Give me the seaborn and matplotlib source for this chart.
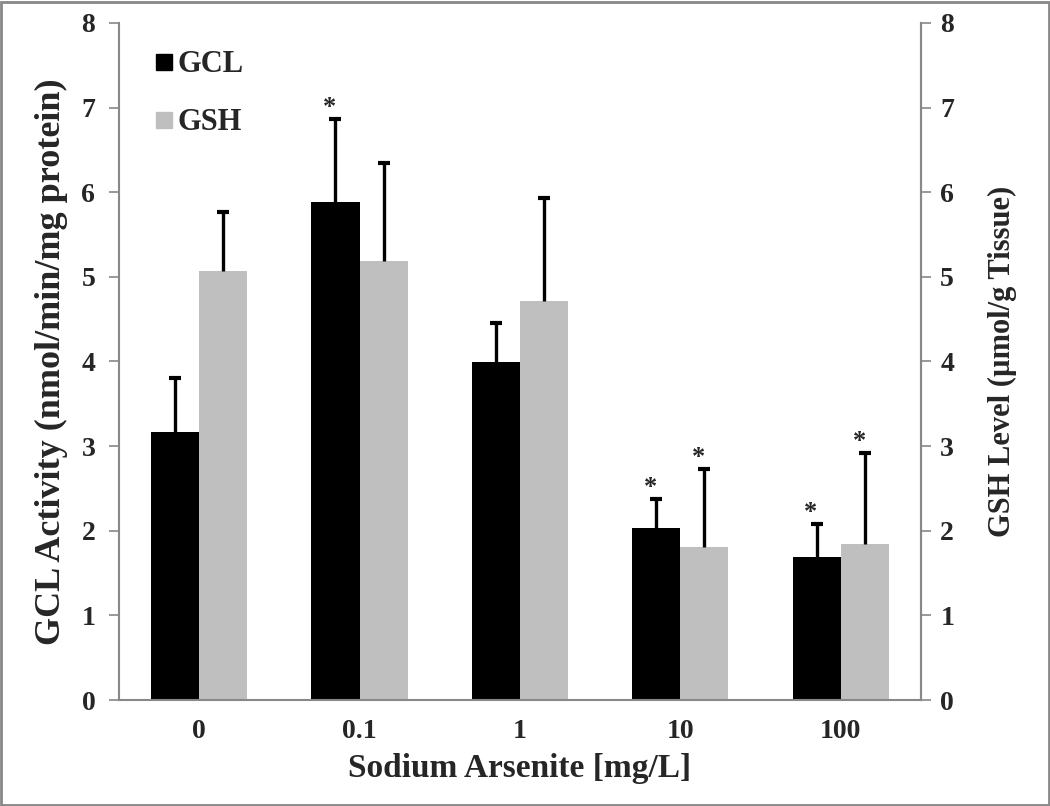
import numpy as np
import pandas as pd
import matplotlib
matplotlib.use('Agg')
import matplotlib.pyplot as plt
from matplotlib.lines import Line2D
from matplotlib.patches import Rectangle
import seaborn as sns

doses = ['0', '0.1', '1', '10', '100']
gcl_mean = [3.17, 5.89, 3.99, 2.03, 1.69]
gcl_err = [0.64, 0.98, 0.46, 0.35, 0.39]
gsh_mean = [5.07, 5.19, 4.71, 1.81, 1.84]
gsh_err = [0.70, 1.15, 1.22, 0.92, 1.08]
gcl_star = [False, True, False, True, True]
gsh_star = [False, False, False, True, True]

series = ['GCL', 'GSH']
colors = ['#000000', '#bfbfbf']

df = pd.DataFrame({
    'dose': doses * 2,
    'value': gcl_mean + gsh_mean,
    'series': ['GCL'] * len(doses) + ['GSH'] * len(doses),
})

sns.set_style('white')
plt.rcParams['font.family'] = ['Liberation Serif', 'DejaVu Serif']
plt.rcParams['font.weight'] = 'bold'

fig = plt.figure(figsize=(10.5, 8.06), dpi=100)
ax = fig.add_axes([0.1133, 0.1315, 0.7637, 0.84])

sns.barplot(data=df, x='dose', y='value', hue='series', order=doses,
            hue_order=series, palette=colors, width=0.6, gap=0,
            saturation=1, errorbar=None, legend=False, linewidth=0, ax=ax)

# upper-only error bars and significance marks, placed from the drawn bars
bars = ax.patches
means = gcl_mean + gsh_mean
errs = gcl_err + gsh_err
stars = gcl_star + gsh_star
for b, m, e, s in zip(bars, means, errs, stars):
    xc = b.get_x() + b.get_width() / 2
    ax.plot([xc, xc], [m, m + e], color='black', lw=2.4, zorder=3,
            solid_capstyle='butt')
    ax.plot([xc], [m + e], marker='_', color='black', markersize=9,
            markeredgewidth=3, zorder=3)
    if s:
        ax.text(xc - 0.035, m + e + 0.0, '*', ha='center', va='bottom',
                fontsize=19, fontweight='bold')

ax.set_xlim(-0.5, 4.5)
ax.set_ylim(0, 8)
ax.set_yticks(range(0, 9))
ax.set_xlabel('Sodium Arsenite [mg/L]', fontsize=24, fontweight='bold', labelpad=6)
ax.set_ylabel('GCL Activity (nmol/min/mg protein)', fontsize=26, fontweight='bold', labelpad=10)
ax.tick_params(axis='y', length=7, width=1.2, color='#888888', labelsize=20, pad=10, left=True)
ax.tick_params(axis='x', length=0, labelsize=20, pad=14)
for lab in ax.get_xticklabels() + ax.get_yticklabels():
    lab.set_fontweight('bold')

for side in ['left', 'bottom', 'right']:
    ax.spines[side].set_color('#888888')
    ax.spines[side].set_linewidth(1.5)
ax.spines['top'].set_visible(False)

ax2 = ax.twinx()
ax2.set_ylim(0, 8)
ax2.set_yticks(range(0, 9))
ax2.set_ylabel('GSH Level (\u00b5mol/g Tissue)', fontsize=22, fontweight='bold', labelpad=24)
ax2.tick_params(axis='y', length=7, width=1.2, color='#888888', labelsize=20, pad=7, right=True)
for lab in ax2.get_yticklabels():
    lab.set_fontweight('bold')
for side in ['top', 'left', 'bottom']:
    ax2.spines[side].set_visible(False)
ax2.spines['right'].set_color('#888888')
ax2.spines['right'].set_linewidth(1.5)

handles = [Line2D([0], [0], marker='s', color='none', markerfacecolor=c,
                  markeredgecolor=c, markersize=11) for c in colors]
ax.legend(handles, series, loc='upper left', bbox_to_anchor=(0.01, 1.0),
          frameon=False, handlelength=0.6, handletextpad=0.15, labelspacing=0.95,
          prop={'size': 22, 'weight': 'bold'})

fig.patches.append(Rectangle((0.001, 0.001), 0.998, 0.997, transform=fig.transFigure,
                             fill=False, edgecolor='#888888', linewidth=2))

fig.savefig('out.png', dpi=100)
